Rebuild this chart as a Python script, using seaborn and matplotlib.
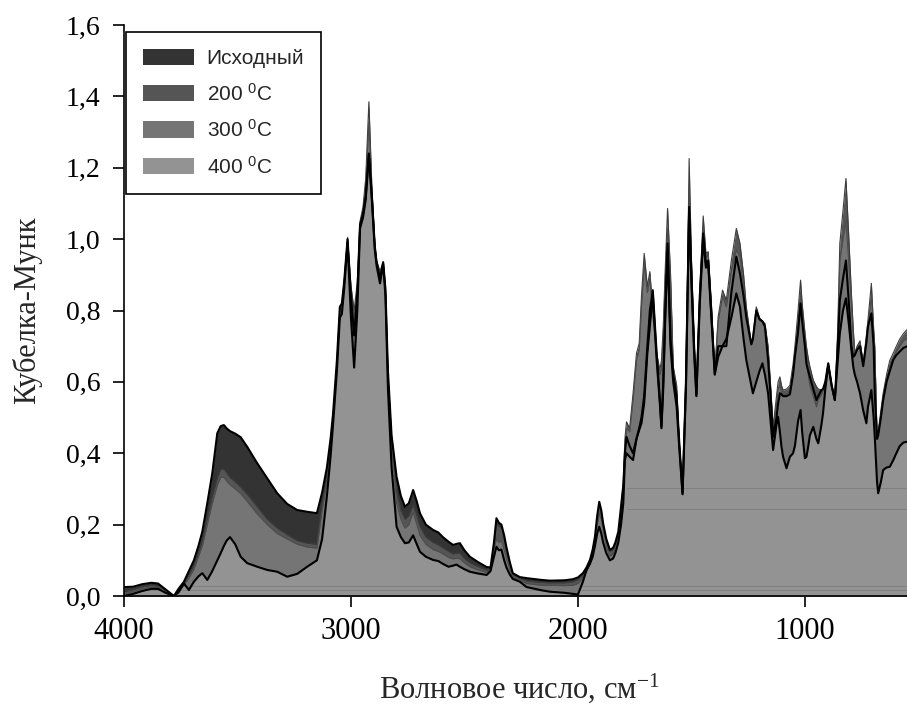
import numpy as np
import pandas as pd
import matplotlib
matplotlib.use("Agg")
import matplotlib.pyplot as plt
from matplotlib.patches import Patch
import seaborn as sns

# ---- spectra: wavenumber (cm-1) and Kubelka-Munk values ----
# 4000 - 1786 cm-1 (shared grid)
wn_left = [4000, 3960, 3920, 3880, 3850, 3820, 3790, 3780,
           3760, 3736, 3714, 3692, 3672, 3655, 3633, 3611, 3589, 3574, 3560, 3548,
           3533, 3510, 3486, 3457, 3413, 3369, 3325, 3281, 3237, 3193, 3150,
           3127, 3106, 3090, 3079, 3062, 3049, 3040, 3030, 3015, 3000, 2986, 2972,
           2960, 2947, 2935, 2921, 2908, 2895, 2887, 2872, 2858, 2848, 2837, 2821,
           2799, 2780, 2762, 2745, 2726, 2710, 2696, 2670, 2638, 2615, 2595, 2570,
           2550, 2535, 2520, 2500, 2476, 2440, 2402, 2385, 2370, 2359, 2348, 2337,
           2325, 2315, 2300, 2287, 2256,
           2226, 2160, 2123, 2060, 2022, 2000, 1978, 1962, 1947, 1935, 1925, 1915,
           1906, 1897, 1889, 1875, 1859, 1845, 1835, 1822, 1810, 1800, 1793, 1786]

src_left = [0.025, 0.026, 0.033, 0.037, 0.035, 0.02, 0.005, 0.0,
            0.02, 0.04, 0.07, 0.10, 0.14, 0.18, 0.26, 0.344, 0.456, 0.476, 0.479, 0.47,
            0.462, 0.455, 0.445, 0.418, 0.372, 0.33, 0.288, 0.258, 0.241, 0.236, 0.232,
            0.29, 0.36, 0.44, 0.51, 0.66, 0.81, 0.82, 0.88, 1.0, 0.84, 0.73, 0.85,
            1.04, 1.07, 1.12, 1.24, 1.12, 0.98, 0.935, 0.89, 0.935, 0.86, 0.63, 0.45,
            0.334, 0.28, 0.25, 0.26, 0.297, 0.265, 0.232, 0.20, 0.185, 0.178, 0.165, 0.152,
            0.143, 0.146, 0.148, 0.128, 0.11, 0.095, 0.081, 0.08, 0.15, 0.218, 0.205, 0.2,
            0.17, 0.137, 0.095, 0.064, 0.053,
            0.05, 0.045, 0.043, 0.044, 0.047, 0.052, 0.064, 0.08, 0.101, 0.13, 0.166, 0.225,
            0.264, 0.24, 0.204, 0.16, 0.129, 0.135, 0.15, 0.18, 0.25, 0.31, 0.40, 0.446]

t200_left = [0.012, 0.018, 0.026, 0.030, 0.028, 0.016, 0.004, 0.0,
             0.015, 0.035, 0.06, 0.085, 0.12, 0.155, 0.22, 0.28, 0.33, 0.355, 0.356, 0.345,
             0.332, 0.32, 0.305, 0.285, 0.25, 0.215, 0.19, 0.172, 0.155, 0.148, 0.145,
             0.26, 0.33, 0.42, 0.50, 0.65, 0.80, 0.82, 0.88, 1.005, 0.87, 0.80, 0.88,
             1.05, 1.09, 1.17, 1.385, 1.15, 0.99, 0.94, 0.91, 0.937, 0.86, 0.62, 0.44,
             0.29, 0.24, 0.215, 0.225, 0.255, 0.225, 0.195, 0.165, 0.15, 0.143, 0.135, 0.125,
             0.118, 0.12, 0.12, 0.105, 0.093, 0.082, 0.072, 0.075, 0.14, 0.205, 0.195, 0.19,
             0.16, 0.125, 0.09, 0.06, 0.05,
             0.042, 0.038, 0.037, 0.037, 0.04, 0.046, 0.058, 0.075, 0.095, 0.125, 0.16, 0.22,
             0.26, 0.235, 0.2, 0.155, 0.125, 0.13, 0.145, 0.175, 0.245, 0.32, 0.44, 0.488]

t300_left = [0.006, 0.012, 0.020, 0.025, 0.024, 0.013, 0.003, 0.0,
             0.012, 0.03, 0.05, 0.075, 0.11, 0.14, 0.20, 0.26, 0.31, 0.332, 0.333, 0.322,
             0.312, 0.30, 0.287, 0.265, 0.23, 0.20, 0.175, 0.16, 0.145, 0.137, 0.134,
             0.24, 0.32, 0.41, 0.49, 0.64, 0.79, 0.80, 0.87, 0.995, 0.82, 0.75, 0.86,
             1.045, 1.08, 1.15, 1.33, 1.13, 0.98, 0.93, 0.90, 0.93, 0.85, 0.61, 0.43,
             0.26, 0.215, 0.19, 0.2, 0.235, 0.2, 0.17, 0.145, 0.13, 0.125, 0.118, 0.108,
             0.104, 0.106, 0.104, 0.093, 0.082, 0.073, 0.066, 0.072, 0.13, 0.16, 0.15, 0.155,
             0.13, 0.105, 0.075, 0.052, 0.045,
             0.035, 0.03, 0.03, 0.029, 0.03, 0.035, 0.05, 0.068, 0.09, 0.115, 0.15, 0.2,
             0.23, 0.215, 0.185, 0.14, 0.112, 0.118, 0.135, 0.165, 0.23, 0.30, 0.42, 0.47]

t400_left = [0.0, 0.006, 0.014, 0.020, 0.020, 0.010, 0.002, 0.0,
             0.01, 0.035, 0.017, 0.04, 0.055, 0.064, 0.045, 0.07, 0.10, 0.12, 0.14, 0.155,
             0.165, 0.145, 0.11, 0.092, 0.082, 0.073, 0.068, 0.054, 0.062, 0.082, 0.10,
             0.16, 0.28, 0.39, 0.48, 0.63, 0.78, 0.79, 0.86, 0.99, 0.78, 0.64, 0.80,
             1.03, 1.06, 1.11, 1.236, 1.11, 0.97, 0.925, 0.876, 0.93, 0.84, 0.58, 0.36,
             0.194, 0.165, 0.148, 0.15, 0.17, 0.145, 0.124, 0.11, 0.101, 0.098, 0.09, 0.082,
             0.085, 0.088, 0.082, 0.075, 0.068, 0.063, 0.059, 0.07, 0.11, 0.138, 0.128, 0.13,
             0.10, 0.08, 0.06, 0.048, 0.04,
             0.025, 0.016, 0.012, 0.009, 0.006, 0.004, 0.04, 0.073, 0.09, 0.11, 0.14, 0.175,
             0.194, 0.175, 0.15, 0.12, 0.10, 0.105, 0.12, 0.15, 0.2, 0.26, 0.38, 0.40]

# 1772 - 545 cm-1 (fingerprint region, shared grid)
wn_right = [1772, 1757, 1742, 1730, 1720, 1708, 1694, 1683, 1670, 1653, 1639, 1632,
            1624, 1615, 1605, 1592, 1580, 1565, 1554, 1539, 1524, 1517, 1510, 1500,
            1488, 1478, 1463, 1448, 1436, 1426, 1411, 1397, 1382, 1363, 1346, 1324,
            1302, 1286, 1270, 1258, 1236, 1229, 1214, 1200, 1187, 1176, 1162, 1150,
            1140, 1125, 1118, 1110, 1103, 1096, 1081, 1066, 1052, 1044, 1030, 1019,
            1012, 1000, 993, 985, 978, 963, 949, 941, 927, 920, 910, 897,
            882, 868, 855, 846, 832, 819, 806, 795, 787, 780, 770, 757,
            743, 729, 722, 707, 697, 692, 682, 677, 665, 655, 640, 626,
            611, 597, 582, 566, 552, 545]

src_right = [0.42, 0.40, 0.44, 0.47, 0.50, 0.56, 0.70, 0.80, 0.857, 0.68, 0.55, 0.474,
             0.60, 0.80, 0.988, 0.72, 0.62, 0.56, 0.437, 0.288, 0.60, 0.85, 1.09, 0.90,
             0.70, 0.563, 0.84, 1.016, 0.93, 0.94, 0.78, 0.624, 0.70, 0.70, 0.70, 0.85,
             0.951, 0.904, 0.84, 0.78, 0.705, 0.72, 0.80, 0.775, 0.77, 0.755, 0.66, 0.55,
             0.446, 0.50, 0.54, 0.568, 0.565, 0.56, 0.56, 0.565, 0.62, 0.67, 0.74, 0.82,
             0.77, 0.70, 0.65, 0.63, 0.614, 0.58, 0.549, 0.56, 0.577, 0.58, 0.60, 0.652,
             0.59, 0.549, 0.70, 0.829, 0.89, 0.94, 0.82, 0.70, 0.67, 0.675, 0.69, 0.70,
             0.644, 0.71, 0.755, 0.792, 0.70, 0.568, 0.44, 0.45, 0.50, 0.549, 0.60, 0.63,
             0.661, 0.675, 0.685, 0.695, 0.699, 0.70]

t200_right = [0.47, 0.568, 0.68, 0.708, 0.839, 0.96, 0.867, 0.909, 0.80, 0.68, 0.633, 0.66,
              0.755, 0.92, 1.086, 0.904, 0.643, 0.59, 0.437, 0.288, 0.624, 0.90, 1.226, 0.951,
              0.717, 0.563, 0.857, 1.065, 0.96, 0.965, 0.81, 0.624, 0.783, 0.857, 0.829, 0.94,
              1.03, 0.988, 0.90, 0.81, 0.708, 0.73, 0.81, 0.78, 0.77, 0.764, 0.70, 0.58,
              0.474, 0.56, 0.60, 0.614, 0.59, 0.577, 0.58, 0.59, 0.65, 0.699, 0.80, 0.885,
              0.82, 0.74, 0.699, 0.665, 0.643, 0.605, 0.587, 0.58, 0.577, 0.58, 0.60, 0.652,
              0.59, 0.549, 0.75, 0.988, 1.08, 1.17, 1.0, 0.848, 0.75, 0.68, 0.70, 0.715,
              0.652, 0.73, 0.773, 0.876, 0.75, 0.699, 0.446, 0.46, 0.52, 0.568, 0.62, 0.66,
              0.68, 0.70, 0.72, 0.735, 0.745, 0.75]

t300_right = [0.46, 0.55, 0.66, 0.69, 0.81, 0.93, 0.85, 0.89, 0.79, 0.67, 0.62, 0.64,
              0.73, 0.89, 1.03, 0.88, 0.63, 0.575, 0.437, 0.288, 0.61, 0.87, 1.15, 0.93,
              0.71, 0.563, 0.85, 1.03, 0.95, 0.955, 0.80, 0.624, 0.77, 0.84, 0.81, 0.91,
              0.97, 0.95, 0.87, 0.79, 0.705, 0.72, 0.80, 0.775, 0.765, 0.755, 0.69, 0.57,
              0.465, 0.54, 0.58, 0.59, 0.57, 0.56, 0.565, 0.575, 0.63, 0.68, 0.77, 0.85,
              0.79, 0.70, 0.66, 0.62, 0.59, 0.56, 0.53, 0.55, 0.565, 0.575, 0.60, 0.652,
              0.59, 0.549, 0.73, 0.94, 1.0, 1.05, 0.93, 0.82, 0.73, 0.675, 0.695, 0.71,
              0.648, 0.72, 0.76, 0.84, 0.735, 0.69, 0.446, 0.455, 0.51, 0.56, 0.61, 0.645,
              0.665, 0.685, 0.70, 0.715, 0.72, 0.725]

t400_right = [0.39, 0.381, 0.44, 0.465, 0.484, 0.54, 0.68, 0.755, 0.845, 0.66, 0.54, 0.47,
              0.58, 0.78, 0.97, 0.70, 0.60, 0.53, 0.42, 0.285, 0.58, 0.83, 1.08, 0.88,
              0.68, 0.56, 0.82, 1.0, 0.92, 0.93, 0.77, 0.62, 0.67, 0.70, 0.72, 0.78,
              0.848, 0.81, 0.72, 0.661, 0.59, 0.568, 0.60, 0.63, 0.652, 0.62, 0.568, 0.48,
              0.409, 0.48, 0.502, 0.46, 0.418, 0.39, 0.358, 0.39, 0.40, 0.42, 0.49, 0.521,
              0.46, 0.386, 0.39, 0.42, 0.45, 0.474, 0.44, 0.428, 0.48, 0.512, 0.58, 0.647,
              0.59, 0.549, 0.66, 0.736, 0.80, 0.834, 0.76, 0.69, 0.643, 0.62, 0.60, 0.568,
              0.52, 0.484, 0.53, 0.577, 0.50, 0.446, 0.32, 0.288, 0.32, 0.353, 0.36, 0.362,
              0.38, 0.40, 0.42, 0.43, 0.432, 0.432]

series_names = ["Исходный", "200 $\\mathregular{^{0}}$C", "300 $\\mathregular{^{0}}$C",
                "400 $\\mathregular{^{0}}$C"]
fill_colors = ["#333333", "#555555", "#757575", "#939393"]
edge_colors = ["#000000", "#3c3c3c", "#4c4c4c", "#000000"]
edge_widths = [1.5, 0.8, 0.8, 1.5]

x_ticks = [4000, 3000, 2000, 1000]
y_ticks = [0.0, 0.2, 0.4, 0.6, 0.8, 1.0, 1.2, 1.4, 1.6]
y_tick_labels = ["0,0", "0,2", "0,4", "0,6", "0,8", "1,0", "1,2", "1,4", "1,6"]

# ---- build one long table ----
left = pd.DataFrame({"wn": wn_left, "s0": src_left, "s1": t200_left,
                     "s2": t300_left, "s3": t400_left})
right = pd.DataFrame({"wn": wn_right, "s0": src_right, "s1": t200_right,
                      "s2": t300_right, "s3": t400_right})
wide = pd.concat([left, right], ignore_index=True)
long = wide.melt(id_vars="wn", var_name="key", value_name="km")
key_to_name = {f"s{i}": n for i, n in enumerate(series_names)}
long["sample"] = long["key"].map(key_to_name)

sns.set_theme(style="ticks")
plt.rcParams["font.family"] = ["Liberation Serif", "DejaVu Serif"]

fig = plt.figure(figsize=(9.07, 7.09), dpi=100)
ax = fig.add_axes([124 / 907, 113 / 709, 1 - 124 / 907, 571 / 709])

# filled spectra, darkest at the back
fills = []
for i, name in enumerate(series_names):
    d = long[long["sample"] == name].sort_values("wn")
    poly = ax.fill_between(d["wn"], 0, d["km"], color=fill_colors[i], lw=0, zorder=1 + i)
    fills.append(poly)

# faint baseline traces inside the front area
clip_path = fills[-1].get_paths()[0]
for y0, x_a, x_b in [(0.018, 4000, 550), (0.027, 4000, 550),
                     (0.245, 1785, 550), (0.302, 1785, 550)]:
    ln, = ax.plot([x_a, x_b], [y0, y0], color="#7d7d7d", lw=0.6, zorder=5.5)
    ln.set_clip_path(clip_path, transform=ax.transData)

# outlines
order = [1, 2, 0, 3]
for i in order:
    name = series_names[i]
    d = long[long["sample"] == name]
    sns.lineplot(data=d, x="wn", y="km", ax=ax, color=edge_colors[i],
                 lw=edge_widths[i], estimator=None, sort=True, legend=False,
                 zorder=6 + order.index(i))

ax.set_xlim(4000, 550)
ax.set_ylim(0, 1.6)
ax.set_xticks(x_ticks)
ax.set_xticklabels([str(v) for v in x_ticks])
ax.set_yticks(y_ticks)
ax.set_yticklabels(y_tick_labels)
ax.tick_params(axis="both", direction="out", length=8, width=1.2, colors="black")
ax.tick_params(axis="y", pad=9, labelsize=20)
ax.tick_params(axis="x", pad=7, labelsize=22)

for side in ["top", "right"]:
    ax.spines[side].set_visible(False)
for side in ["left", "bottom"]:
    ax.spines[side].set_linewidth(1.2)
    ax.spines[side].set_color("black")
    ax.spines[side].set_zorder(20)

ax.set_xlabel("Волновое число, см$\\mathregular{^{-1}}$", fontsize=22)
ax.set_ylabel("Кубелка-Мунк", fontsize=22)
ax.xaxis.set_label_coords(0.505, -0.132)
ax.yaxis.set_label_coords(-0.104, 0.5)

handles = [Patch(facecolor=c, edgecolor="none") for c in fill_colors]
leg = ax.legend(handles, series_names, loc="upper left", bbox_to_anchor=(0.003, 0.988),
                frameon=True, fancybox=False, edgecolor="black", framealpha=1,
                prop={"family": "Liberation Sans", "size": 15},
                handlelength=2.45, handleheight=0.82, handletextpad=0.6,
                labelspacing=0.7, borderpad=0.8, borderaxespad=0)
leg.get_frame().set_linewidth(1.2)
leg.set_zorder(30)

fig.savefig("out.png", dpi=100)
